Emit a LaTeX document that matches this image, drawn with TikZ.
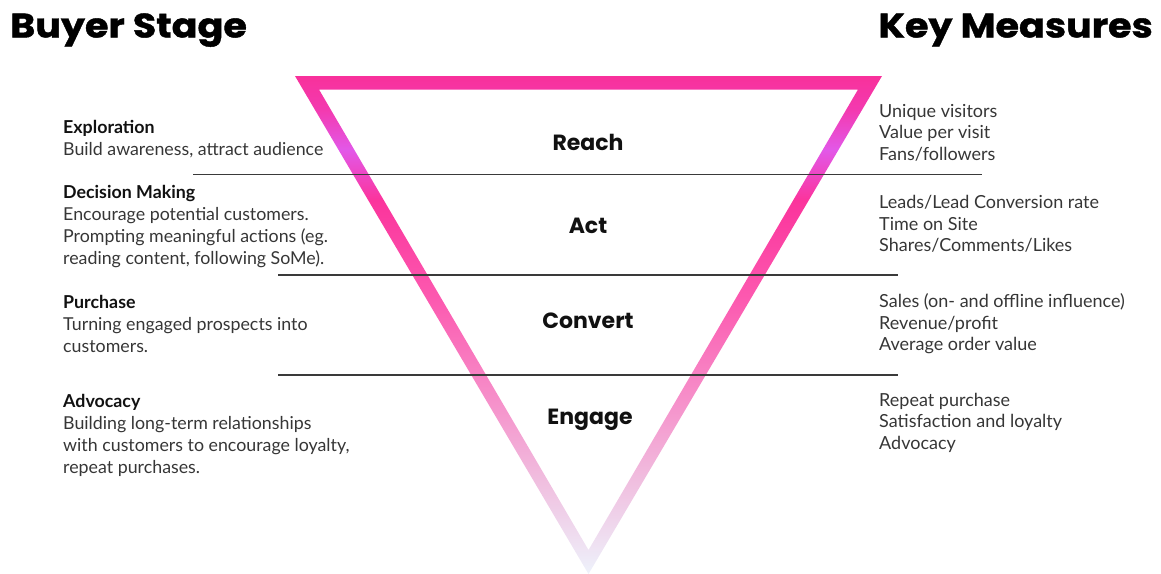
\documentclass[tikz,border=0pt]{standalone}
\usepackage{fontspec}
\setmainfont{Lato}
\newfontfamily\titlefont{Poppins}[BoldFeatures={FakeStretch=1.12, FakeBold=1.2}]
\newfontfamily\stagefont{Poppins}

% text and rule colours
\definecolor{ink}{HTML}{111111}
\definecolor{bodytext}{HTML}{363636}
\definecolor{rulecol}{HTML}{3A3A3A}

% funnel gradient, from the tip (f0) up to the rim (f7)
\definecolor{f0}{HTML}{EEF2FB}
\definecolor{f1}{HTML}{F0BEDF}
\definecolor{f2}{HTML}{F690CA}
\definecolor{f3}{HTML}{FC5AB0}
\definecolor{f4}{HTML}{FB349C}
\definecolor{f5}{HTML}{E258E8}
\definecolor{f6}{HTML}{F33AB0}
\definecolor{f7}{HTML}{F8319B}

% the path's bounding box maps onto 25bp..75bp
\pgfdeclareverticalshading{funnelshade}{100bp}{%
  color(0bp)=(f0); color(25bp)=(f0); color(34.44bp)=(f1);
  color(42.47bp)=(f2); color(52.51bp)=(f3); color(62.55bp)=(f4);
  color(67.57bp)=(f5); color(71.59bp)=(f6); color(75bp)=(f7);
  color(100bp)=(f7)}

% text blocks are placed by the baseline of their last line
\tikzset{
  title/.style={inner sep=0pt, font=\titlefont\bfseries\fontsize{34}{40}\selectfont, text=black},
  stage/.style={anchor=base, inner sep=0pt, font=\stagefont\bfseries\fontsize{22}{26}\selectfont, text=ink},
  leftblock/.style={anchor=base west, align=left, inner sep=0pt,
    font=\fontsize{17.8}{22}\selectfont, text=bodytext},
  rightblock/.style={anchor=base west, align=left, inner sep=0pt,
    font=\fontsize{18}{21.5}\selectfont, text=bodytext},
  divider/.style={draw=rulecol, line width=1.8pt},
}
\newcommand{\hd}[1]{{\bfseries\color{ink}#1}}

\begin{document}
\begin{tikzpicture}[x=1pt, y=-1pt]
\useasboundingbox (0,0) rectangle (1161,573);

% funnel outline: outer and inner triangles
\coordinate (o1) at (295,76);
\coordinate (o2) at (882,76);
\coordinate (o3) at (588.5,574);
\coordinate (i1) at (319,89.5);
\coordinate (i2) at (858,89.5);
\coordinate (i3) at (588.5,550);
\shade[shading=funnelshade, even odd rule]
  (o1) -- (o2) -- (o3) -- cycle
  (i1) -- (i2) -- (i3) -- cycle;

% column titles
\node[title, anchor=base west] (buyer) at (10,37.5) {Buyer Stage};
\node[title, anchor=base east] (keymeasures) at (1153,37.5) {Key Measures};

% dividers between the stages
\coordinate (d1a) at (193,174.5);
\coordinate (d1b) at (982,174.5);
\coordinate (d2a) at (278,275);
\coordinate (d2b) at (898,275);
\coordinate (d3a) at (278,375);
\coordinate (d3b) at (898,375);
\draw[divider] (d1a) -- (d1b);
\draw[divider] (d2a) -- (d2b);
\draw[divider] (d3a) -- (d3b);

% stage names inside the funnel
\node[stage] (reach) at (588,150) {Reach};
\node[stage] (act) at (588,233) {Act};
\node[stage] (convert) at (588,328) {Convert};
\node[stage] (engage) at (590,424) {Engage};

% buyer stages
\node[leftblock] (exploration) at (63,155)
  {\hd{Exploration}\\Build awareness, attract audience};
\node[leftblock] (decision) at (63,264.5)
  {\hd{Decision Making}\\Encourage potential customers.\\Prompting meaningful actions (eg.\\reading content, following SoMe).};
\node[leftblock] (purchase) at (63,352.7)
  {\hd{Purchase}\\Turning engaged prospects into\\customers.};
\node[leftblock] (advocacy) at (63,473.3)
  {\hd{Advocacy}\\Building long-term relationships\\with customers to encourage loyalty,\\repeat purchases.};

% key measures
\node[rightblock] (mreach) at (879,160)
  {Unique visitors\\Value per visit\\Fans/followers};
\node[rightblock] (mact) at (879,251.7)
  {Leads/Lead Conversion rate\\Time on Site\\Shares/Comments/Likes};
\node[rightblock] (mconvert) at (879,350.7)
  {Sales (on- and offline influence)\\Revenue/profit\\Average order value};
\node[rightblock] (mengage) at (879,449.3)
  {Repeat purchase\\Satisfaction and loyalty\\Advocacy};
\end{tikzpicture}
\end{document}
